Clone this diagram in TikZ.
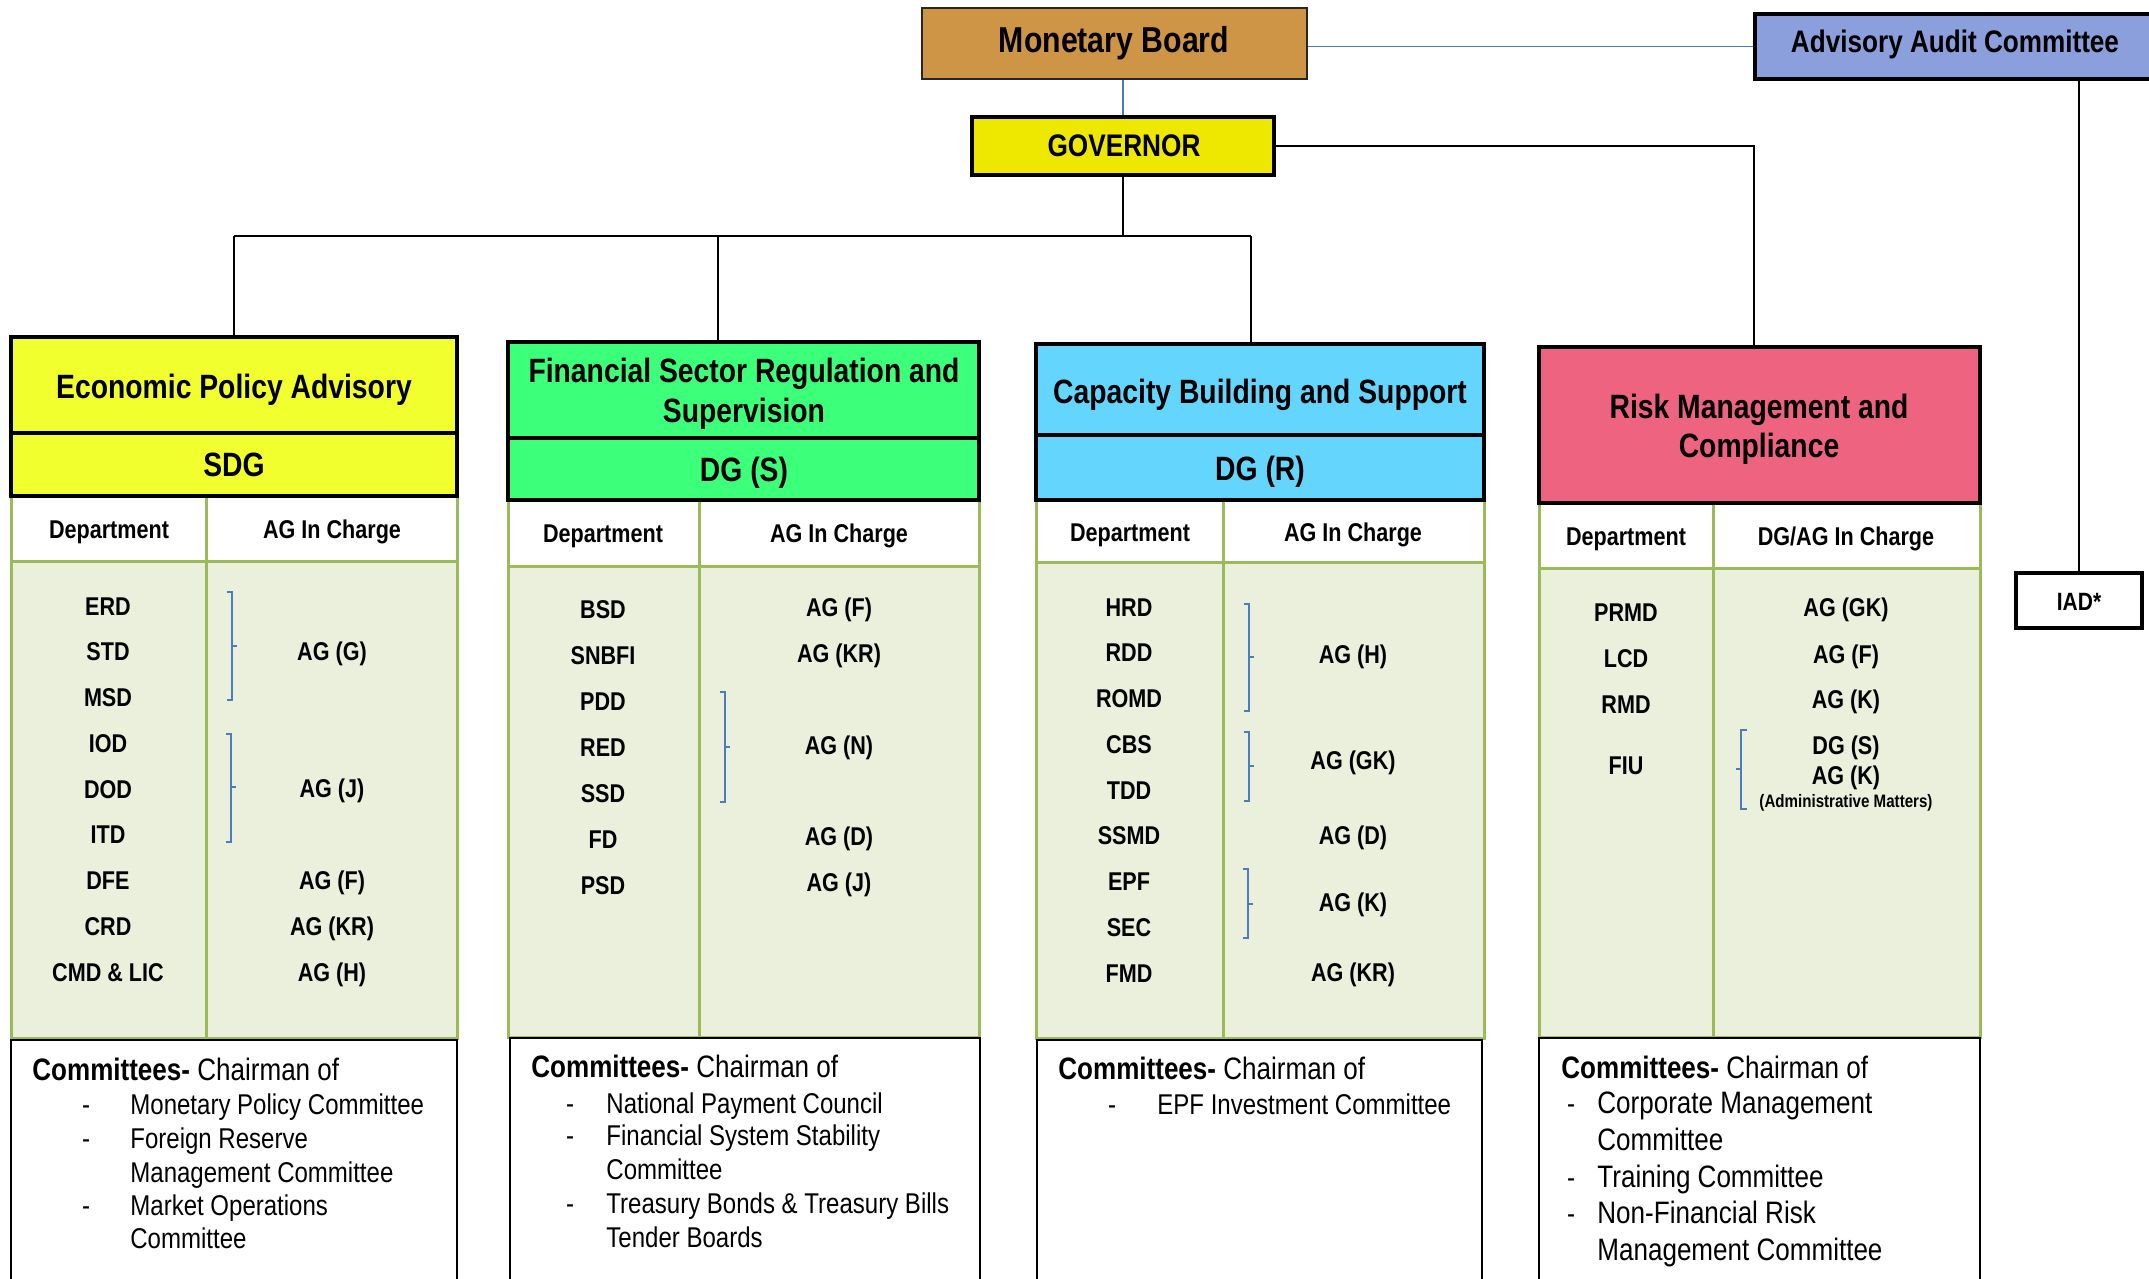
\documentclass[tikz,border=0pt]{standalone}
\usepackage{fontspec}
\setmainfont{Liberation Sans}[FakeStretch=0.84]
\usetikzlibrary{fit}
\definecolor{mbfill}{HTML}{CD9545}
\definecolor{aacfill}{HTML}{8A9FDB}
\definecolor{govfill}{HTML}{EEE800}
\definecolor{cya}{HTML}{F1FF2F}
\definecolor{cgr}{HTML}{3CFF7A}
\definecolor{ccy}{HTML}{64D6FE}
\definecolor{cpk}{HTML}{EE6380}
\definecolor{bodyc}{HTML}{EAF0DC}
\definecolor{gline}{HTML}{9BBB59}
\definecolor{bline}{HTML}{4A7EBB}
\newcommand\fs[1]{\fontsize{#1}{#1}\selectfont}
\newcommand\rbr[6]{\draw[brk] (#1,#4) -- (#2,#4) -- (#2,#5) -- (#1,#5) (#2,#6) -- (#3,#6);}
\begin{document}
\begin{tikzpicture}[x=0.5pt,y=-0.5pt,
  blackbox/.style={draw=black, line width=1.75pt, inner sep=0pt},
  greenbox/.style={draw=gline, line width=1.5pt, inner sep=0pt},
  commbox/.style={draw=black, line width=1pt, fill=white, inner sep=0pt},
  conn/.style={draw=black, line width=1pt},
  blueconn/.style={draw=bline, line width=0.9pt},
  brk/.style={draw=bline, line width=0.8pt},
  txt/.style={inner sep=0pt, anchor=base},
  ttl/.style={txt, font=\fs{16.85pt}\bfseries},
  row/.style={txt, font=\fs{12.85pt}\bfseries},
  cmh/.style={inner sep=0pt, anchor=base west, font=\fs{15.5pt}},
  cmi/.style={inner sep=0pt, anchor=base west, font=\fs{14.3pt}},
  cmj/.style={inner sep=0pt, anchor=base west, font=\fs{15.5pt}},
  dsh/.style={inner sep=0pt, anchor=base, font=\fs{14.3pt}}
]
\useasboundingbox (0,0) rectangle (2149,1279);
\clip (0,0) rectangle (2149,1279);
\fill[white] (0,0) rectangle (2149,1279);

% ---------- top ----------
\node[draw=black!85, line width=1pt, inner sep=0pt, fill=mbfill, fit={(922,8) (1307,79)}] (mb) {};
\node[txt, font=\fs{18pt}\bfseries] (mbt) at (1114,53) {Monetary Board};
\node[blackbox, fill=aacfill, fit={(1755,14) (2175,79)}] (aac) {};
\node[txt, font=\fs{15.55pt}\bfseries] (aact) at (1955,53) {Advisory Audit Committee};
\node[blackbox, fill=govfill, fit={(972,117) (1274,175)}] (gov) {};
\node[txt, font=\fs{15.6pt}\bfseries] (govt) at (1124,157) {GOVERNOR};
\node[blackbox, fill=white, fit={(2016,573) (2142,628)}] (iad) {};
\node[txt, font=\fs{12.5pt}\bfseries] (iadt) at (2079,610) {IAD*};

% ---------- column 1 ----------
\node[greenbox, fill=bodyc, fit={(11,561) (457,1038)}] (b1) {};
\node[greenbox, fill=white, fit={(11,496) (457,561)}] (h1) {};
\draw[gline, line width=1.5pt] (206,496) -- (206,1038);
\node[commbox, fit={(11,1040) (457,1300)}] (k1) {};
\node[blackbox, fill=cya, fit={(11,337) (457,433)}] (t1) {};
\node[blackbox, fill=cya, fit={(11,433) (457,496)}] (s1) {};
\node[ttl] (t1a) at (234,398) {Economic Policy Advisory};
\node[ttl] (s1t) at (234,476) {SDG};
\node[row] (h1a) at (109,538) {Department};
\node[row] (h1b) at (332,538) {AG In Charge};
\foreach \t [count=\i] in {ERD,STD,MSD,IOD,DOD,ITD,DFE,CRD,CMD \& LIC}
  \node[row] (d1-\i) at (108,{615+45.75*(\i-1)}) {\t};
\node[row] (a1-1) at (332,660) {AG (G)};
\node[row] (a1-2) at (332,797) {AG (J)};
\node[row] (a1-3) at (332,889) {AG (F)};
\node[row] (a1-4) at (332,935) {AG (KR)};
\node[row] (a1-5) at (332,981) {AG (H)};
\rbr{227}{232}{237}{592}{700}{646}
\rbr{226}{231}{236}{734}{842}{787}
\node[cmh] (k1h) at (32,1080) {\bfseries Committees-\mdseries\ Chairman of};
\node[dsh] (k1d1) at (86,1114) {-};
\node[dsh] (k1d2) at (86,1148) {-};
\node[dsh] (k1d3) at (86,1215) {-};
\node[cmi] (k1i1) at (130,1114) {Monetary Policy Committee};
\node[cmi] (k1i2) at (130,1148) {Foreign Reserve};
\node[cmi] (k1i3) at (130,1182) {Management Committee};
\node[cmi] (k1i4) at (130,1215) {Market Operations};
\node[cmi] (k1i5) at (130,1248) {Committee};

% ---------- column 2 ----------
\node[greenbox, fill=bodyc, fit={(508,566) (979,1037)}] (b2) {};
\node[greenbox, fill=white, fit={(508,500) (979,566)}] (h2) {};
\draw[gline, line width=1.5pt] (699,500) -- (699,1037);
\node[commbox, fit={(510,1038) (980,1300)}] (k2) {};
\node[blackbox, fill=cgr, fit={(508,342) (979,438)}] (t2) {};
\node[blackbox, fill=cgr, fit={(508,438) (979,500)}] (s2) {};
\node[ttl] (t2a) at (744,382) {Financial Sector Regulation and};
\node[ttl] (t2b) at (744,422) {Supervision};
\node[ttl] (s2t) at (744,481) {DG (S)};
\node[row] (h2a) at (603,542) {Department};
\node[row] (h2b) at (839,542) {AG In Charge};
\foreach \t [count=\i] in {BSD,SNBFI,PDD,RED,SSD,FD,PSD}
  \node[row] (d2-\i) at (603,{618+46*(\i-1)}) {\t};
\node[row] (a2-1) at (839,616) {AG (F)};
\node[row] (a2-2) at (839,662) {AG (KR)};
\node[row] (a2-3) at (839,754) {AG (N)};
\node[row] (a2-4) at (839,845) {AG (D)};
\node[row] (a2-5) at (839,891) {AG (J)};
\rbr{720}{725}{730}{692}{802}{747}
\node[cmh] (k2h) at (531,1077) {\bfseries Committees-\mdseries\ Chairman of};
\node[dsh] (k2d1) at (570,1113) {-};
\node[dsh] (k2d2) at (570,1145) {-};
\node[dsh] (k2d3) at (570,1213) {-};
\node[cmi] (k2i1) at (606,1113) {National Payment Council};
\node[cmi] (k2i2) at (606,1145) {Financial System Stability};
\node[cmi] (k2i3) at (606,1179) {Committee};
\node[cmi] (k2i4) at (606,1213) {Treasury Bonds \& Treasury Bills};
\node[cmi] (k2i5) at (606,1247) {Tender Boards};

% ---------- column 3 ----------
\node[greenbox, fill=bodyc, fit={(1036,562) (1484,1038)}] (b3) {};
\node[greenbox, fill=white, fit={(1036,500) (1484,562)}] (h3) {};
\draw[gline, line width=1.5pt] (1223,500) -- (1223,1038);
\node[commbox, fit={(1037,1040) (1482,1300)}] (k3) {};
\node[blackbox, fill=ccy, fit={(1036,344) (1484,435)}] (t3) {};
\node[blackbox, fill=ccy, fit={(1036,435) (1484,500)}] (s3) {};
\node[ttl] (t3a) at (1260,403) {Capacity Building and Support};
\node[ttl] (s3t) at (1260,480) {DG (R)};
\node[row] (h3a) at (1130,541) {Department};
\node[row] (h3b) at (1353,541) {AG In Charge};
\foreach \t [count=\i] in {HRD,RDD,ROMD,CBS,TDD,SSMD,EPF,SEC,FMD}
  \node[row] (d3-\i) at (1129,{616+45.75*(\i-1)}) {\t};
\node[row] (a3-1) at (1353,663) {AG (H)};
\node[row] (a3-2) at (1353,769) {AG (GK)};
\node[row] (a3-3) at (1353,844) {AG (D)};
\node[row] (a3-4) at (1353,911) {AG (K)};
\node[row] (a3-5) at (1353,981) {AG (KR)};
\rbr{1244}{1249}{1254}{604}{711}{657}
\rbr{1244}{1249}{1254}{732}{801}{766}
\rbr{1243}{1248}{1253}{869}{938}{904}
\node[cmh] (k3h) at (1058,1079) {\bfseries Committees-\mdseries\ Chairman of};
\node[dsh] (k3d1) at (1112,1114) {-};
\node[cmi] (k3i1) at (1157,1114) {EPF Investment Committee};

% ---------- column 4 ----------
\node[greenbox, fill=bodyc, fit={(1539,568) (1980,1037)}] (b4) {};
\node[greenbox, fill=white, fit={(1539,503) (1980,568)}] (h4) {};
\draw[gline, line width=1.5pt] (1713,503) -- (1713,1037);
\node[commbox, fit={(1539,1038) (1980,1300)}] (k4) {};
\node[blackbox, fill=cpk, fit={(1539,347) (1980,503)}] (t4) {};
\node[ttl] (t4a) at (1759,418) {Risk Management and};
\node[ttl] (t4b) at (1759,457) {Compliance};
\node[row] (h4a) at (1626,545) {Department};
\node[row] (h4b) at (1846,545) {DG/AG In Charge};
\node[row] (d4-1) at (1626,621) {PRMD};
\node[row] (d4-2) at (1626,667) {LCD};
\node[row] (d4-3) at (1626,713) {RMD};
\node[row] (d4-4) at (1626,774) {FIU};
\node[row] (a4-1) at (1846,616) {AG (GK)};
\node[row] (a4-2) at (1846,663) {AG (F)};
\node[row] (a4-3) at (1846,708) {AG (K)};
\node[row] (a4-4) at (1846,754) {DG (S)};
\node[row] (a4-5) at (1846,784) {AG (K)};
\node[txt, font=\fs{9pt}\bfseries] (a4-6) at (1846,807) {(Administrative Matters)};
\rbr{1747}{1741}{1736}{730}{809}{769}
\node[cmh] (k4h) at (1561,1078) {\bfseries Committees-\mdseries\ Chairman of};
\node[dsh] (k4d1) at (1571,1113) {-};
\node[dsh] (k4d2) at (1571,1187) {-};
\node[dsh] (k4d3) at (1571,1223) {-};
\node[cmj] (k4i1) at (1597,1113) {Corporate Management};
\node[cmj] (k4i2) at (1597,1150) {Committee};
\node[cmj] (k4i3) at (1597,1187) {Training Committee};
\node[cmj] (k4i4) at (1597,1223) {Non-Financial Risk};
\node[cmj] (k4i5) at (1597,1260) {Management Committee};

% ---------- connectors ----------
\coordinate (bus) at (1123,236);
\coordinate (d2) at (718,342);
\coordinate (d3) at (1251,344);
\coordinate (d4) at (1754,347);
\draw[blueconn] (aac.west) -- (aac.west -| mb.east);
\draw[blueconn] (mb.south -| gov.north) -- (gov.north);
\draw[conn] (gov.south) -- (bus);
\draw[conn] (t1.north |- bus) -- (d3 |- bus);
\draw[conn] (t1.north |- bus) -- (t1.north);
\draw[conn] (d2 |- bus) -- (d2);
\draw[conn] (d3 |- bus) -- (d3);
\draw[conn, line width=1.3pt] (gov.east) -| (d4);
\draw[conn] (iad.north |- aac.south) -- (iad.north);
\end{tikzpicture}
\end{document}
